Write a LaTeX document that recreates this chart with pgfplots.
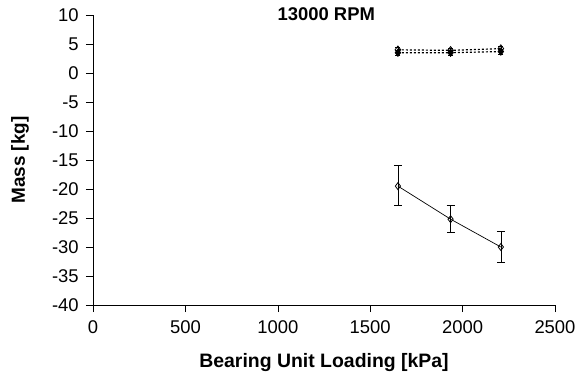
\documentclass[border=0pt]{standalone}
\usepackage{pgfplots}
\pgfplotsset{compat=1.18}
\usepackage{fontspec}
\setmainfont{Liberation Sans}
\begin{document}
\fontsize{18.5}{21}\selectfont
\begin{tikzpicture}
\begin{axis}[
  name=ax,
  scale only axis,
  width=462bp, height=290bp,
  xmin=0, xmax=2500, ymin=-40, ymax=10,
  xtick={0,500,...,2500}, ytick={-40,-35,...,10},
  axis x line*=bottom, axis y line*=left,
  axis line style={-, line width=0.6pt},
  tick align=outside, major tick length=7bp,
  tick style={black, line width=0.6pt},
  /pgf/number format/assume math mode=true,
  /pgf/number format/1000 sep={},
  ticklabel style={font=\fontsize{18.5}{21}\selectfont},
  xticklabel style={yshift=-2bp},
  yticklabel style={xshift=-1bp},
  xlabel={\textbf{Bearing Unit Loading [kPa]}},
  ylabel={\textbf{Mass [kg]}},
  xlabel style={at={(axis description cs:0.5,-0.2)}, anchor=center, font=\fontsize{19.5}{22}\selectfont},
  ylabel style={at={(axis description cs:-0.158,0.5)}, anchor=center, font=\fontsize{19}{22}\selectfont},
  title={\textbf{13000 RPM}},
  title style={at={(axis description cs:0.505,1)}, anchor=center, yshift=-5bp},
  clip=false,
]
\addplot[black, line width=0.7pt, mark=diamond, mark size=3.5pt,
  mark options={solid, fill=white, line width=0.8pt},
  error bars/.cd, y dir=both, y explicit,
  error bar style={line width=0.7pt},
  error mark options={rotate=90, mark size=4bp, line width=0.7pt}]
  coordinates {
  (1650,-19.5) += (0,3.6) -= (0,3.4)
  (1935,-25.2) += (0,2.4) -= (0,2.3)
  (2207,-30.0) += (0,2.7) -= (0,2.7)
  };
\addplot[black, line width=1.2pt, dash pattern=on 2bp off 2bp, mark=diamond*, mark size=3.8pt,
  mark options={solid, fill=black, line width=0.6pt},
  error bars/.cd, y dir=both, y explicit,
  error bar style={line width=0.6pt, solid},
  error mark options={rotate=90, mark size=2.5bp, line width=0.6pt}]
  coordinates {
  (1650,3.5) +- (0,0.4)
  (1935,3.5) +- (0,0.4)
  (2207,3.7) +- (0,0.4)
  };
\addplot[black, line width=1.2pt, dash pattern=on 2bp off 2bp, mark=diamond, mark size=3.8pt,
  mark options={solid, fill=white, line width=0.8pt},
  error bars/.cd, y dir=both, y explicit,
  error bar style={line width=0.6pt, solid},
  error mark options={rotate=90, mark size=2.5bp, line width=0.6pt}]
  coordinates {
  (1650,4.0) +- (0,0.4)
  (1935,3.9) +- (0,0.4)
  (2207,4.2) +- (0,0.4)
  };
\coordinate (o) at (rel axis cs:0,0);
\end{axis}
\pgfresetboundingbox
\path (o) ++(-93bp,-73bp) rectangle ++(582bp,378bp);
\end{tikzpicture}
\end{document}
